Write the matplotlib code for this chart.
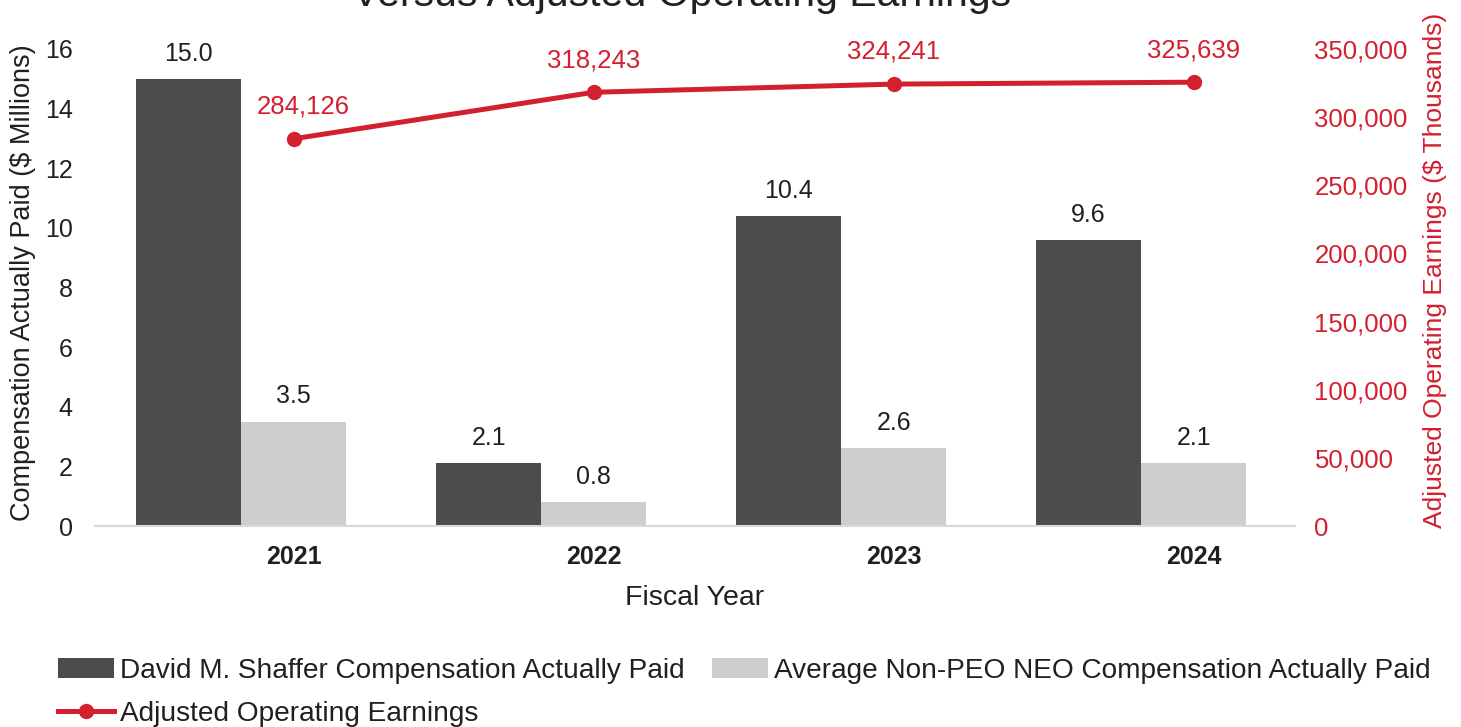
import numpy as np
import matplotlib.pyplot as plt
from matplotlib import rc

rc('font', **{'family': 'sans-serif', 'sans-serif': ['Liberation Sans', 'DejaVu Sans']})

years = ['2021', '2022', '2023', '2024']
peo_cap = [15.0, 2.1, 10.4, 9.6]
neo_cap = [3.5, 0.8, 2.6, 2.1]
adj_earnings = [284126, 318243, 324241, 325639]

dark = '#4B4C4E'
light = '#CDCED0'
red = '#D2202F'
txt = '#231F20'

fig = plt.figure(figsize=(14.61, 7.27), dpi=100)
ax = fig.add_axes([95 / 1461, 1 - 526 / 727, 1200 / 1461, 477 / 727])
ax2 = ax.twinx()

x = np.arange(len(years))
w = 0.35
shift = -0.013
b1 = ax.bar(x + shift - w / 2, peo_cap, w, color=dark, label='David M. Shaffer Compensation Actually Paid')
b2 = ax.bar(x + shift + w / 2, neo_cap, w, color=light, label='Average Non-PEO NEO Compensation Actually Paid')
ax.bar_label(b1, labels=[f'{v:.1f}' for v in peo_cap], padding=9.5, fontsize=18, color=txt)
ax.bar_label(b2, labels=[f'{v:.1f}' for v in neo_cap], padding=9.5, fontsize=18, color=txt)

xl = x + 0.162
ln, = ax2.plot(xl, adj_earnings, color=red, lw=3.6, marker='o', markersize=10,
               label='Adjusted Operating Earnings')
for i, (xi, v) in enumerate(zip(xl, adj_earnings)):
    dx = 7 if i == 0 else 0
    ax2.annotate(f'{v:,}', (xi, v), xytext=(dx, 14.5), textcoords='offset points',
                 ha='center', va='bottom', fontsize=18.5, color=red)

ax.set_xlim(-0.5, 3.5)
ax.set_ylim(0, 16)
ax.set_yticks(range(0, 17, 2))
ax2.set_ylim(0, 350000)
ax2.set_yticks(range(0, 350001, 50000))
ax2.set_yticklabels([f'{v:,}' for v in range(0, 350001, 50000)])

ax.set_xticks(xl)
ax.set_xticklabels(years, fontweight='bold')
ax.tick_params(axis='x', length=0, pad=13.5, labelsize=18, labelcolor=txt)
ax.tick_params(axis='y', length=0, pad=16, labelsize=18, labelcolor=txt)
ax2.tick_params(axis='y', length=0, pad=14, labelsize=18.5, labelcolor=red)

for a in (ax, ax2):
    for s in ('top', 'left', 'right'):
        a.spines[s].set_visible(False)
ax2.spines['bottom'].set_visible(False)
ax.spines['bottom'].set_color('#D9D9D9')
ax.spines['bottom'].set_linewidth(1.5)

ax.set_xlabel('Fiscal Year', fontsize=20.5, color=txt)
ax.xaxis.set_label_coords(0.5, -0.15)
ax.xaxis.label.set_va('center')
ax.set_ylabel('Compensation Actually Paid ($ Millions)', fontsize=19.5, color=txt)
ax.yaxis.set_label_coords(-0.06, 0.51)
ax.yaxis.label.set_va('center')
ax2.set_ylabel('Adjusted Operating Earnings ($ Thousands)', fontsize=19, color=red)
ax2.yaxis.set_label_coords(1.117, 0.535)
ax2.yaxis.label.set_va('center')

# title sits mostly above the figure edge, as in the source image
fig.text(682 / 1461, 1 - 6 / 727, 'Versus Adjusted Operating Earnings', ha='center',
         va='baseline', fontsize=29.5, color=txt)

fig.legend([b1, ln, b2], [b1.get_label(), ln.get_label(), b2.get_label()],
           loc='upper left', bbox_to_anchor=(44 / 1461, 1 - 644 / 727), ncol=2,
           frameon=False, fontsize=20.2, handlelength=2.0, handletextpad=0.22,
           columnspacing=0.95, borderpad=0, labelspacing=0.6, labelcolor=txt)

fig.savefig('out.png', dpi=100)
